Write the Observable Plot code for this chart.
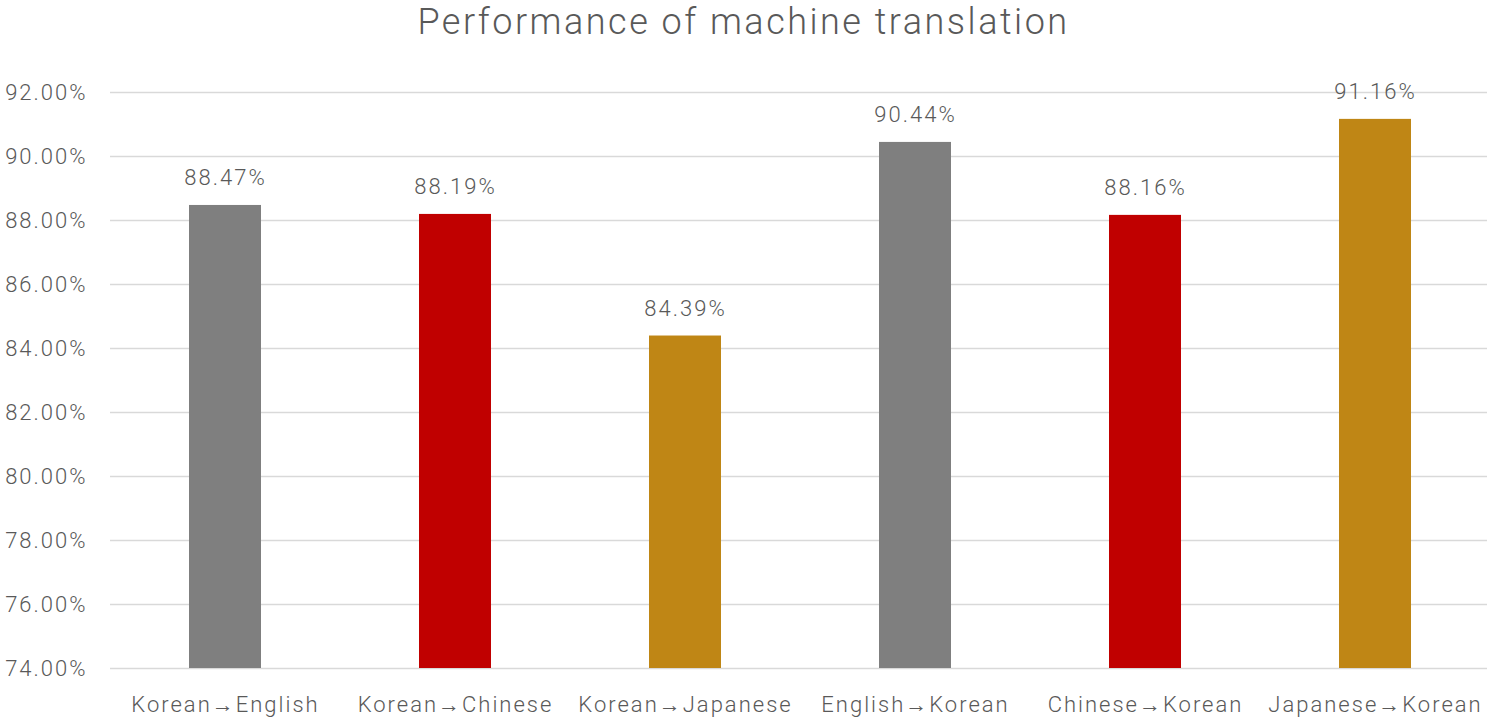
<!DOCTYPE html>
<html>
<head>
<meta charset="utf-8">
<script src="https://cdn.jsdelivr.net/npm/d3@7"></script>
<script src="https://cdn.jsdelivr.net/npm/@observablehq/plot@0.6"></script>
<style>
  html, body { margin: 0; padding: 0; background: #fff; }
  #title { height: 50px; line-height: 44px; text-align: center; font-family: Roboto, "Open Sans", sans-serif; font-weight: 300; font-size: 36px; color: #595959; letter-spacing: 2.5px; }
  #chart svg { display: block; }
</style>
</head>
<body>
<div id="title">Performance of machine translation</div>
<div id="chart"></div>
<script>
const categories = ["Korean→English", "Korean→Chinese", "Korean→Japanese", "English→Korean", "Chinese→Korean", "Japanese→Korean"];
const values = [88.47, 88.19, 84.39, 90.44, 88.16, 91.16];
const partner = ["English", "Chinese", "Japanese", "English", "Chinese", "Japanese"];
const yTicks = [74, 76, 78, 80, 82, 84, 86, 88, 90, 92];

const data = categories.map((c, i) => ({category: c, value: values[i], partner: partner[i]}));
const fmt = d => d.toFixed(2) + "%";

const chart = Plot.plot({
  width: 1487,
  height: 669,
  marginTop: 42,
  marginBottom: 51,
  marginLeft: 110,
  marginRight: 0,
  style: {fontFamily: "Roboto, 'Open Sans', sans-serif", fontSize: "22px", fontWeight: 300, color: "#595959", background: "#fff", letterSpacing: "2px"},
  x: {domain: categories, range: [110, 1490], paddingInner: 0.687, paddingOuter: 0.3435, label: null, tickSize: 0, tickPadding: 28},
  y: {domain: [74, 92], label: null, ticks: yTicks, tickFormat: fmt, tickSize: 0, tickPadding: 23},
  color: {domain: ["English", "Chinese", "Japanese"], range: ["#7f7f7f", "#c00000", "#bf8615"]},
  marks: [
    Plot.gridY(yTicks, {stroke: "#d9d9d9", strokeOpacity: 1, strokeWidth: 1.5}),
    Plot.barY(data, {x: "category", y1: 74, y2: "value", fill: "partner"}),
    Plot.text(data, {x: "category", y: "value", text: d => fmt(d.value), lineAnchor: "bottom", dy: -20, fill: "#595959", fontSize: 22, fontWeight: 300})
  ]
});
document.getElementById("chart").appendChild(chart);
</script>
</body>
</html>
